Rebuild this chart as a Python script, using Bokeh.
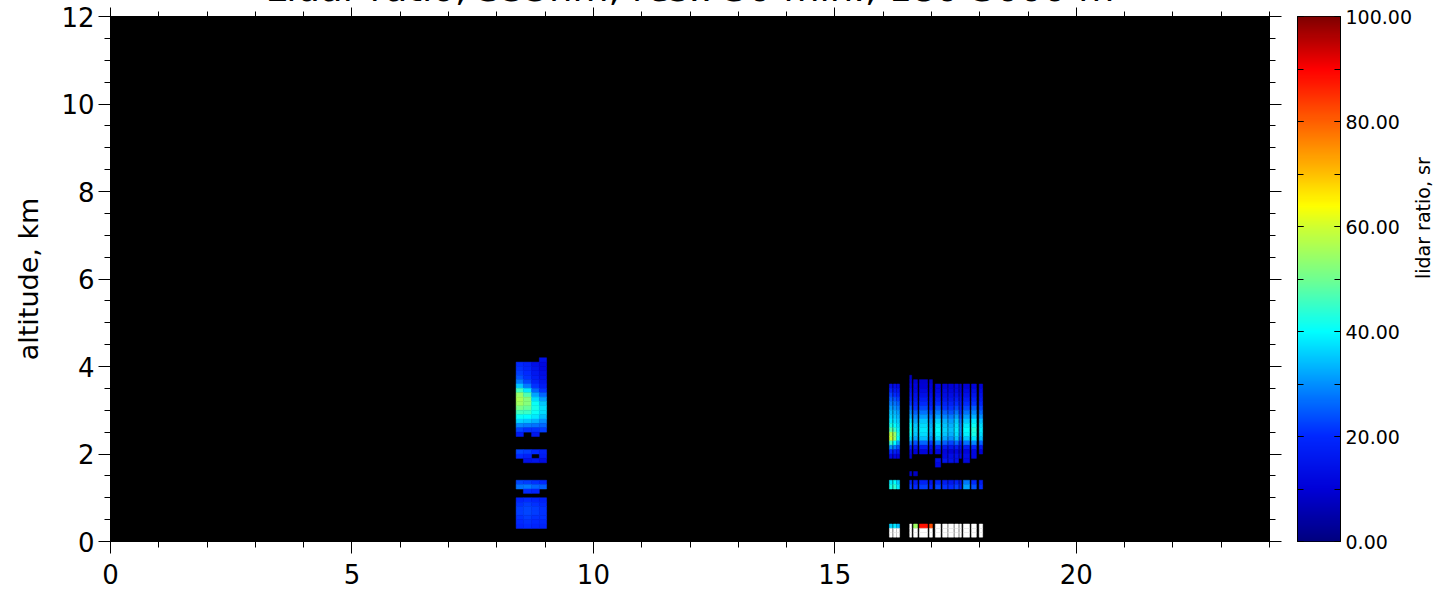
import math
import numpy as np
from bokeh.plotting import figure
from bokeh.models import (LinearAxis, FixedTicker, Title, LinearColorMapper,
                          ColumnDataSource, PrintfTickFormatter)
from bokeh.layouts import row
from bokeh.transform import linear_cmap
from bokeh.embed import file_html
from bokeh.resources import INLINE

N = None
# ---------------- data ----------------
title_text = "Lidar ratio, 355nm, res.: 30 min., 180-3000 m"
x_ticks = [0, 5, 10, 15, 20]
y_ticks = [0, 2, 4, 6, 8, 10, 12]
cb_ticks = [0, 20, 40, 60, 80, 100]

# altitude bins (bottom edges, km), each 0.1 km thick
alt_bottom = [4.1, 4.0, 3.9, 3.8, 3.7, 3.6, 3.5, 3.4, 3.3, 3.2, 3.1, 3.0, 2.9, 2.8,
              2.7, 2.6, 2.5, 2.4, 2.3, 2.2, 2.1, 2.0, 1.9, 1.8, 1.7, 1.6, 1.5, 1.4,
              1.3, 1.2, 1.1, 1.0, 0.9, 0.8, 0.7, 0.6, 0.5, 0.4, 0.3, 0.2, 0.1]
alt_step = 0.1

# morning measurement: time columns (hours UTC)
r1_start = [8.40, 8.55, 8.72, 8.88]
r1_end = [8.55, 8.72, 8.88, 9.03]
r1_rows = [
    [N, N, N, 14],
    [20, 18, 14, 12],
    [21, 19, 15, 12],
    [22, 20, 16, 13],
    [24, 21, 17, 14],
    [28, 23, 18, 15],
    [35, 28, 21, 17],
    [46, 38, 26, 21],
    [54, 47, 32, 26],
    [56, 52, 37, 31],
    [55, 52, 41, 35],
    [51, 49, 42, 37],
    [46, 45, 41, 37],
    [41, 40, 38, 34],
    [36, 35, 33, 30],
    [29, 28, 27, 26],
    [23, 21, 21, 22],
    [17, N, 16, N],
    [N, N, N, N],
    [N, N, N, N],
    [N, N, N, N],
    [23, 22, 20, 18],
    [20, 18, N, 17],
    [N, 14, 15, 13],
    [N, N, N, N],
    [N, N, N, N],
    [N, N, N, N],
    [N, N, N, N],
    [23, 22, 21, 20],
    [27, 28, 26, 25],
    [N, 20, 19, N],
    [N, N, N, N],
    [19, 20, 19, 18],
    [21, 22, 21, 20],
    [22, 23, 22, 21],
    [22, 23, 22, 21],
    [21, 22, 21, 21],
    [20, 21, 20, 20],
    [19, 20, 19, 19],
    [N, N, N, N],
    [N, N, N, N],
]

# afternoon measurement: profiles (hours UTC)
r2_start = [16.13, 16.21, 16.28, 16.55, 16.63, 16.75, 16.96, 17.08, 17.23, 17.35,
            17.48, 17.58, 17.66, 17.83, 17.99]
r2_end = [16.19, 16.27, 16.34, 16.59, 16.71, 16.92, 17.02, 17.19, 17.33, 17.46,
          17.56, 17.62, 17.79, 17.93, 18.06]
E = [N, N, N, N, N, N, N, N, N, N, N, N, N, N, N]
r2_rows = [
    E, E, E, E,
    [N, N, N, 8, N, N, N, N, N, N, N, N, N, N, N],
    [N, N, N, 10, 9, 9, 8, N, N, N, N, N, N, N, N],
    [14, 13, 12, 12, 11, 10, 10, 11, 10, 10, 11, 9, 10, 11, 10],
    [18, 16, 15, 14, 12, 12, 11, 12, 12, 11, 12, 10, 12, 13, 12],
    [22, 20, 18, 16, 14, 14, 13, 14, 13, 13, 14, 12, 14, 15, 14],
    [25, 24, 22, 18, 16, 17, 15, 17, 15, 15, 17, 14, 17, 18, 16],
    [28, 27, 25, 21, 18, 20, 17, 20, 18, 18, 20, 16, 20, 21, 19],
    [31, 30, 28, 25, 21, 23, 20, 24, 21, 21, 23, 18, 23, 25, 22],
    [34, 33, 31, 29, 25, 27, 24, 28, 25, 24, 27, 21, 27, 29, 26],
    [36, 35, 33, 33, 29, 31, 28, 32, 29, 28, 31, 24, 31, 33, 30],
    [38, 37, 35, 37, 32, 35, 31, 36, 33, 31, 35, 27, 35, 38, 34],
    [42, 40, 37, 40, 35, 37, 33, 39, 35, 33, 37, 29, 38, 41, 37],
    [48, 45, 39, 42, 36, 38, 34, 40, 36, 34, 38, 30, 40, 43, 38],
    [58, 54, 42, 41, 35, 37, 33, 39, 35, 33, 37, 29, 39, 42, 37],
    [60, 55, 40, 37, 32, 34, 30, 36, 32, 30, 34, 26, 35, 38, 34],
    [45, 40, 32, 28, 24, 26, 22, 28, 25, 23, 26, 20, 27, 29, 26],
    [30, 28, 24, 18, 15, 17, 14, 18, 16, 15, 17, 13, 17, 19, 16],
    [20, 18, 16, 12, 10, 11, 10, 12, 11, 10, 11, 9, 11, 12, 10],
    [12, 11, 10, 9, N, N, N, N, 12, 13, 14, 12, 13, 12, N],
    [N, N, N, N, N, N, N, 14, 15, 14, 13, N, 12, N, N],
    [N, N, N, N, N, N, N, 12, N, N, N, N, N, N, N],
    E,
    [N, N, N, 9, 8, N, N, N, N, N, N, N, N, N, N],
    E,
    [38, 40, 35, 18, 16, 18, 15, 19, 17, 16, 18, 15, 28, 20, 17],
    [42, 44, 38, 22, 20, 22, 19, 23, 21, 20, 22, 18, 32, 24, 20],
    E, E, E, E, E, E, E, E,
    [36, 38, 34, 150, 55, 88, 82, 150, 150, 150, 150, 150, 150, 150, 150],
    [150, 150, 150, 150, 150, 150, 150, 150, 150, 150, 150, 150, 150, 150, 150],
    [150, 150, 150, 150, 150, 150, 150, 150, 150, 150, 150, 150, 150, 150, 150],
]
assert len(r1_rows) == len(alt_bottom) and len(r2_rows) == len(alt_bottom)

# ---------------- colour table (IDL-like rainbow) ----------------
anchors = [(0, (0, 0, 128)), (10, (0, 0, 216)), (20, (0, 40, 255)), (30, (0, 144, 255)),
           (40, (0, 255, 255)), (50, (112, 255, 144)), (60, (208, 255, 48)),
           (64, (255, 255, 0)), (70, (255, 192, 0)), (80, (255, 96, 0)),
           (90, (255, 0, 0)), (100, (128, 0, 0))]
av = np.array([a[0] for a in anchors], float)
ac = np.array([a[1] for a in anchors], float)
lv = np.linspace(0, 100, 256)
palette = ["#%02x%02x%02x" % tuple(int(round(np.interp(v, av, ac[:, k]))) for k in range(3))
           for v in lv]

# ---------------- build cells ----------------
left, right, bottom, top, val = [], [], [], [], []
for starts, ends, rows in ((r1_start, r1_end, r1_rows), (r2_start, r2_end, r2_rows)):
    for ai, rr in enumerate(rows):
        for ci, v in enumerate(rr):
            if v is None:
                continue
            left.append(starts[ci]); right.append(ends[ci])
            bottom.append(alt_bottom[ai]); top.append(alt_bottom[ai] + alt_step)
            val.append(v)
src = ColumnDataSource(dict(left=left, right=right, bottom=bottom, top=top, val=val))

FONT = "DejaVu Sans"
TOP = 70     # top border; the layout is lifted so that the frame starts at y = 16
p = figure(frame_width=1159, frame_height=525, x_range=(0, 24), y_range=(0, 12),
           output_backend="svg", toolbar_location=None,
           min_border_left=110, min_border_right=23, min_border_top=TOP, min_border_bottom=54,
           background_fill_color="black", border_fill_color="white",
           outline_line_color="black")
p.grid.visible = False

cmap = linear_cmap("val", palette, 0, 100, high_color="white")
p.quad(left="left", right="right", bottom="bottom", top="top", source=src,
       fill_color=cmap, line_color=cmap, line_width=0.5)

xt = FixedTicker(ticks=x_ticks, minor_ticks=list(range(0, 25)))
yt = FixedTicker(ticks=y_ticks, minor_ticks=[i * 0.5 for i in range(25)])


def style_axis(ax, tick_out, minor_out, show_labels=True, size="26px", standoff=4):
    ax.major_tick_out = tick_out
    ax.major_tick_in = 0
    ax.minor_tick_out = minor_out
    ax.minor_tick_in = 0
    ax.axis_line_color = "black"
    ax.major_tick_line_color = "black"
    ax.minor_tick_line_color = "black"
    ax.major_label_text_font = FONT
    ax.major_label_text_color = "black"
    if show_labels:
        ax.major_label_text_font_size = size
        ax.major_label_standoff = standoff
    else:
        ax.major_label_text_font_size = "0px"
        ax.major_label_text_alpha = 0
        ax.major_label_standoff = 0


xa = p.xaxis[0]
xa.ticker = xt
style_axis(xa, 12, 6, standoff=10)
ya = p.yaxis[0]
ya.ticker = yt
style_axis(ya, 12, 6, standoff=4)
ya.axis_label = "altitude, km"
ya.axis_label_text_font = FONT
ya.axis_label_text_font_size = "27px"
ya.axis_label_text_font_style = "normal"
ya.axis_label_text_color = "black"
ya.axis_label_standoff = 14

ta = LinearAxis(ticker=xt)
style_axis(ta, 9, 5, show_labels=False)
p.add_layout(ta, "above")
ra = LinearAxis(ticker=yt)
style_axis(ra, 12, 6, show_labels=False)
p.add_layout(ra, "right")

# chart title: only its lower part is inside the window, as in the original
ttl = Title(text=title_text, align="center", vertical_align="bottom",
            text_font=FONT, text_font_size="37px", text_font_style="normal",
            text_color="black", text_baseline="alphabetic")
try:
    ttl.standoff = -4
except Exception:
    ttl.standoff = 0
p.title = ttl

# ---------------- colour bar ----------------
mapper = LinearColorMapper(palette=palette, low=0, high=100)
p2 = figure(frame_width=43, frame_height=525, x_range=(0, 1), y_range=(0, 100),
            output_backend="svg", toolbar_location=None,
            x_axis_location=None, y_axis_location="right",
            min_border_left=5, min_border_right=95, min_border_top=TOP, min_border_bottom=54,
            outline_line_color="black", border_fill_color="white")
p2.grid.visible = False
grad = np.linspace(0, 100, 256).reshape(-1, 1)
p2.image(image=[grad], x=0, y=0, dw=1, dh=100, color_mapper=mapper)
cbt = FixedTicker(ticks=cb_ticks, minor_ticks=[0, 10, 20, 30, 40, 50, 60, 70, 80, 90, 100])
cr = p2.yaxis[0]
cr.ticker = cbt
cr.formatter = PrintfTickFormatter(format="%.2f")
cr.major_tick_in = 6
cr.major_tick_out = 0
cr.minor_tick_in = 6
cr.minor_tick_out = 0
cr.axis_line_color = "black"
cr.major_label_text_font = FONT
cr.major_label_text_font_size = "19px"
cr.major_label_text_color = "black"
cr.major_label_standoff = 5
cr.axis_label = "lidar ratio, sr"
cr.axis_label_text_font = FONT
cr.axis_label_text_font_size = "19px"
cr.axis_label_text_font_style = "normal"
cr.axis_label_text_color = "black"
cr.axis_label_standoff = 8
try:
    cr.axis_label_orientation = math.pi / 2
except Exception:
    pass
cl = LinearAxis(ticker=cbt)
cl.major_tick_in = 6
cl.major_tick_out = 0
cl.minor_tick_in = 6
cl.minor_tick_out = 0
cl.axis_line_color = "black"
cl.major_label_text_font_size = "0px"
cl.major_label_text_alpha = 0
cl.major_label_standoff = 0
p2.add_layout(cl, "left")

layout = row(p, p2)
layout.styles = {"margin-top": "-%dpx" % (TOP - 16)}
open("out.html", "w").write(file_html(layout, INLINE))
